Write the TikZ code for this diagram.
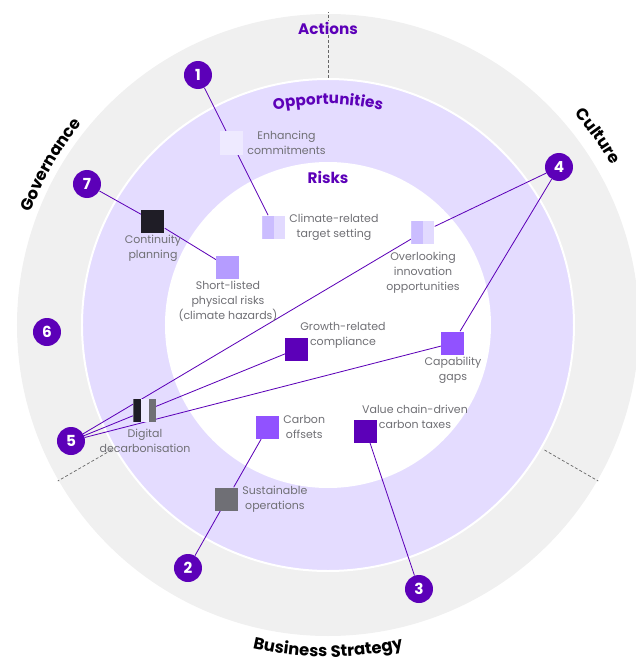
\documentclass[tikz,border=0pt]{standalone}
\usepackage{fontspec}
\setmainfont{Poppins}
\usetikzlibrary{positioning,backgrounds,decorations.text}

\definecolor{ringgrey}{HTML}{F0F0F0}
\definecolor{ringlav}{HTML}{E4DCFF}
\definecolor{violetdark}{HTML}{5C00B8}
\definecolor{violetmid}{HTML}{9152FF}
\definecolor{violetsoft}{HTML}{B59CFF}
\definecolor{tintA}{HTML}{CBBDFF}
\definecolor{tintB}{HTML}{E2DAFF}
\definecolor{tintC}{HTML}{EEEAFF}
\definecolor{inkdark}{HTML}{1F1D26}
\definecolor{inkgrey}{HTML}{6F6F75}
\definecolor{labelgrey}{HTML}{707075}

\begin{document}
\begin{tikzpicture}[
    x=0.03cm, y=0.03cm,
    num/.style={circle, fill=violetdark, text=white, minimum size=0.84cm, inner sep=0pt, font=\bfseries\fontsize{13}{13}\selectfont},
    tile/.style={minimum size=0.69cm, inner sep=0pt},
    halftile/.style={tile, fill=tintB, path picture={\fill[tintA] (path picture bounding box.south west) rectangle (path picture bounding box.north);}},
    stripetile/.style={tile, fill=tintC, path picture={
        \fill[inkdark] (path picture bounding box.south west) rectangle ([xshift=0.23cm]path picture bounding box.north west);
        \fill[inkgrey] ([xshift=-0.23cm]path picture bounding box.south east) rectangle (path picture bounding box.north east);}},
    lbl/.style={align=center, text=labelgrey, inner sep=1pt, font=\fontsize{9.4}{12.8}\selectfont},
    ringtitle/.style={text=violetdark, inner sep=1pt, font=\bfseries\fontsize{13}{13}\selectfont},
    link/.style={draw=violetdark, line width=0.7pt},
    divider/.style={draw=black!60, dash pattern=on 2.5pt off 1.8pt, line width=0.6pt},
]
\useasboundingbox (-328,-337) rectangle (308,325);

\node[num] (n1) at (-130,250) {1};
\node[num] (n2) at (-140,-243) {2};
\node[num] (n3) at (91,-264) {3};
\node[num] (n4) at (231,158) {4};
\node[num] (n5) at (-257,-116) {5};
\node[num] (n6) at (-281,-7) {6};
\node[num] (n7) at (-241,141) {7};

\node[tile, fill=tintC] (enh) at (-96,182) {};
\node[lbl, right=2pt of enh] (enhl) {Enhancing\\commitments};
\node[halftile] (clim) at (-54,98) {};
\node[lbl, right=2pt of clim] (climl) {Climate-related\\target setting};
\node[halftile] (over) at (95,93) {};
\node[lbl, below=6pt of over] (overl) {Overlooking\\innovation\\opportunities};
\node[tile, fill=inkdark] (cont) at (-175,104) {};
\node[lbl, below=1pt of cont] (contl) {Continuity\\planning};
\node[tile, fill=violetsoft] (short) at (-100,58) {};
\node[lbl, below=1pt of short] (shortl) {Short-listed\\physical risks\\(climate hazards)};
\node[tile, fill=violetdark] (growth) at (-31,-24) {};
\node[lbl] (growthl) at (15,-10) {Growth-related\\compliance};
\node[tile, fill=violetmid] (capab) at (125,-18) {};
\node[lbl, below=1pt of capab] (capabl) {Capability\\gaps};
\node[stripetile] (digit) at (-183,-85) {};
\node[lbl, below=5pt of digit] (digitl) {Digital\\decarbonisation};
\node[tile, fill=violetmid] (offs) at (-60,-102) {};
\node[lbl, right=2pt of offs] (offsl) {Carbon\\offsets};
\node[tile, fill=violetdark] (value) at (38,-106) {};
\node[lbl] (valuel) at (87,-92) {Value chain-driven\\carbon taxes};
\node[tile, fill=inkgrey] (sust) at (-101,-174) {};
\node[lbl, right=2pt of sust] (sustl) {Sustainable\\operations};

\node[ringtitle, fill=ringgrey] (actions) at (0,297) {Actions};
\node[ringtitle] (risks) at (0,148) {Risks};

\begin{scope}[on background layer]
\fill[ringgrey] (0,0) circle[radius=311];
\draw[white, line width=1.7pt, fill=ringlav] (0,0) circle[radius=246];
\fill[white] (0,0) circle[radius=163];
\draw[divider] (90:247) -- (90:313);
\draw[divider] (210:250) -- (210:312);
\draw[divider] (330:250) -- (330:312);
\draw[link] (n1) -- (enh) -- (clim);
\draw[link] (n7) -- (cont) -- (short);
\draw[link] (n2) -- (sust) -- (offs);
\draw[link] (n3) -- (value);
\draw[link] (n4) -- (over);
\draw[link] (n4) -- (capab);
\draw[link] (n5) -- (over);
\draw[link] (n5) -- (growth);
\draw[link] (n5) -- (capab);
\end{scope}

\path[decorate, decoration={text along path, text align=center, text color=violetdark,
    text={|\bfseries\fontsize{13}{13}\selectfont|Opportunities}}]
    (110:221) arc[start angle=110, end angle=70, radius=221];
\path[decorate, decoration={text along path, text align=center, text color=black,
    text={|\bfseries\fontsize{14}{14}\selectfont|Governance}}]
    (165:318) arc[start angle=165, end angle=135, radius=318];
\path[decorate, decoration={text along path, text align=center, text color=black,
    text={|\bfseries\fontsize{14}{14}\selectfont|Culture}}]
    (50:325) arc[start angle=50, end angle=20, radius=325];
\path[decorate, decoration={text along path, text align=center, text color=black,
    text={|\bfseries\fontsize{14}{14}\selectfont|Business Strategy}}]
    (250:332) arc[start angle=250, end angle=290, radius=332];
\end{tikzpicture}
\end{document}
